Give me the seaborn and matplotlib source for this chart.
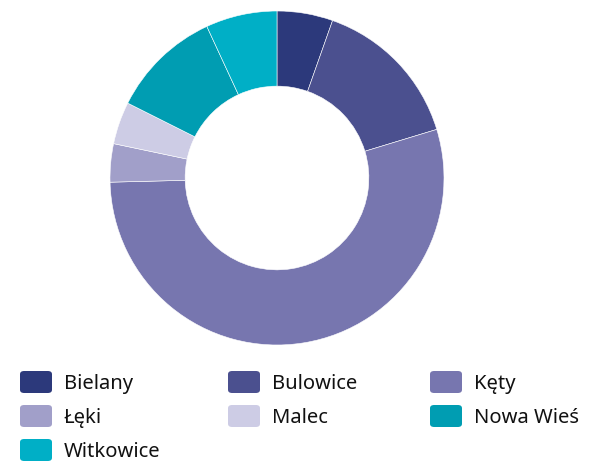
import matplotlib
matplotlib.use("Agg")
import matplotlib.pyplot as plt
from matplotlib.patches import FancyBboxPatch
import seaborn as sns

places = ["Bielany", "Bulowice", "Kęty", "Łęki", "Malec", "Nowa Wieś", "Witkowice"]
shares = [5.4, 14.9, 54.3, 3.7, 4.1, 10.7, 6.9]
colors = ["#2c397b", "#4b508f", "#7776af", "#a19fc9", "#cdcce5", "#009db2", "#00afc6"]

sns.set_theme(style="white")
plt.rcParams['font.family'] = ['Noto Sans', 'DejaVu Sans']

W, H = 595, 461
fig = plt.figure(figsize=(W / 100, H / 100), dpi=100)

# donut
cx, cy, r = 277, 178, 167
ax = fig.add_axes([(cx - r) / W, (H - cy - r) / H, 2 * r / W, 2 * r / H])
ax.pie(shares, colors=colors, startangle=90, counterclock=False,
       wedgeprops=dict(width=0.45, edgecolor="white", linewidth=0.4))
ax.set_xlim(-1, 1)
ax.set_ylim(-1, 1)
ax.axis("off")

# legend, three columns
col_x = [20, 228, 430]
row_y = [382, 416, 450]
for i, (name, c) in enumerate(zip(places, colors)):
    x = col_x[i % 3]
    y = row_y[i // 3]
    box = FancyBboxPatch((x / W, (H - y - 11) / H), 32 / W, 22 / H,
                         boxstyle="round,pad=0,rounding_size=0.007",
                         transform=fig.transFigure, facecolor=c, edgecolor="none")
    fig.patches.append(box)
    fig.text((x + 44) / W, (H - y - 2) / H, name, fontsize=14.5, color="#111111",
             va="center", ha="left")

fig.savefig("out.png", dpi=100)
